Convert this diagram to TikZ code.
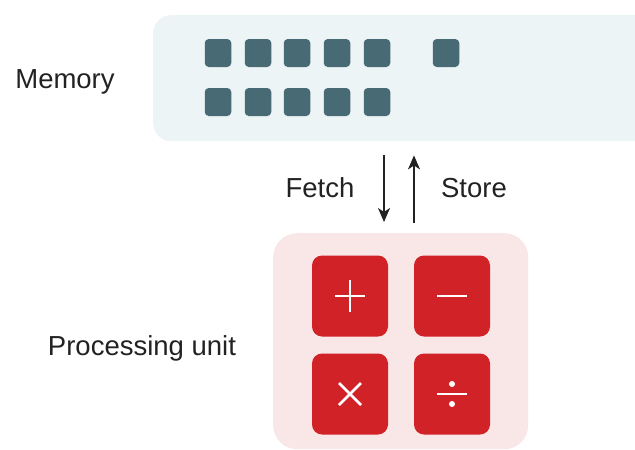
\documentclass[tikz,border=0pt]{standalone}
\usepackage{fontspec}
\setmainfont{Liberation Sans}
\usetikzlibrary{arrows.meta,calc}
\definecolor{membg}{HTML}{ECF4F6}
\definecolor{cell}{HTML}{476A75}
\definecolor{opred}{HTML}{D12228}
\definecolor{pubg}{HTML}{F9E6E7}
\definecolor{ink}{HTML}{222222}
\tikzset{
  lbl/.style={anchor=base, text=ink, inner sep=0pt, font=\fontsize{27.5}{33}\selectfont},
  cellbox/.style={fill=cell, minimum width=26.5pt, minimum height=28pt, rounded corners=4pt, inner sep=0pt},
  opbox/.style={fill=opred, minimum width=76pt, minimum height=81pt, rounded corners=10pt, inner sep=0pt},
  sym/.style={draw=white, line width=2.6pt},
  arr/.style={draw=ink, line width=1.5pt, -{Stealth[length=14pt,width=12pt,inset=4pt]}},
}
\begin{document}
\begin{tikzpicture}[x=1pt,y=-1pt]
\useasboundingbox (0,0) rectangle (635,450);
\clip (0,0) rectangle (635,450);
\fill[white] (0,0) rectangle (635,450);
% memory
\node[fill=membg, minimum width=560pt, minimum height=126pt, rounded corners=18pt, anchor=north west, inner sep=0pt] (mem) at (153,15) {};
\foreach \i/\x in {1/218,2/258,3/297,4/337,5/377,6/446}
  \node[cellbox] (ca\i) at (\x,53) {};
\foreach \i/\x in {1/218,2/258,3/297,4/337,5/377}
  \node[cellbox] (cb\i) at (\x,102) {};
\node[lbl] (memlbl) at (65,88) {Memory};
% processing unit
\node[fill=pubg, minimum width=255pt, minimum height=216pt, rounded corners=24pt, anchor=north west, inner sep=0pt] (pu) at (273,233) {};
\node[opbox] (add) at (350,296) {};
\node[opbox] (sub) at (452,296) {};
\node[opbox] (mul) at (350,394) {};
\node[opbox] (dvd) at (452,394) {};
\draw[sym] ($(add)+(-15,0)$) -- ($(add)+(15,0)$) ($(add)+(0,-16)$) -- ($(add)+(0,16)$);
\draw[sym] ($(sub)+(-15,0)$) -- ($(sub)+(15,0)$);
\draw[sym] ($(mul)+(-11,-11)$) -- ($(mul)+(11,11)$) ($(mul)+(-11,11)$) -- ($(mul)+(11,-11)$);
\draw[sym] ($(dvd)+(-15,0)$) -- ($(dvd)+(15,0)$);
\fill[white] ($(dvd)+(0,-10)$) circle (3pt) ($(dvd)+(0,10)$) circle (3pt);
\node[lbl] (pulbl) at (142,355) {Processing unit};
% arrows
\coordinate (fx) at (384,0);
\coordinate (sx) at (414,0);
\draw[arr, shorten <=14pt, shorten >=11pt] (mem.south -| fx) -- (pu.north -| fx);
\draw[arr, shorten <=10pt, shorten >=14pt] (pu.north -| sx) -- (mem.south -| sx);
\node[lbl] (fetch) at (320,197) {Fetch};
\node[lbl] (store) at (474,197) {Store};
\end{tikzpicture}
\end{document}
